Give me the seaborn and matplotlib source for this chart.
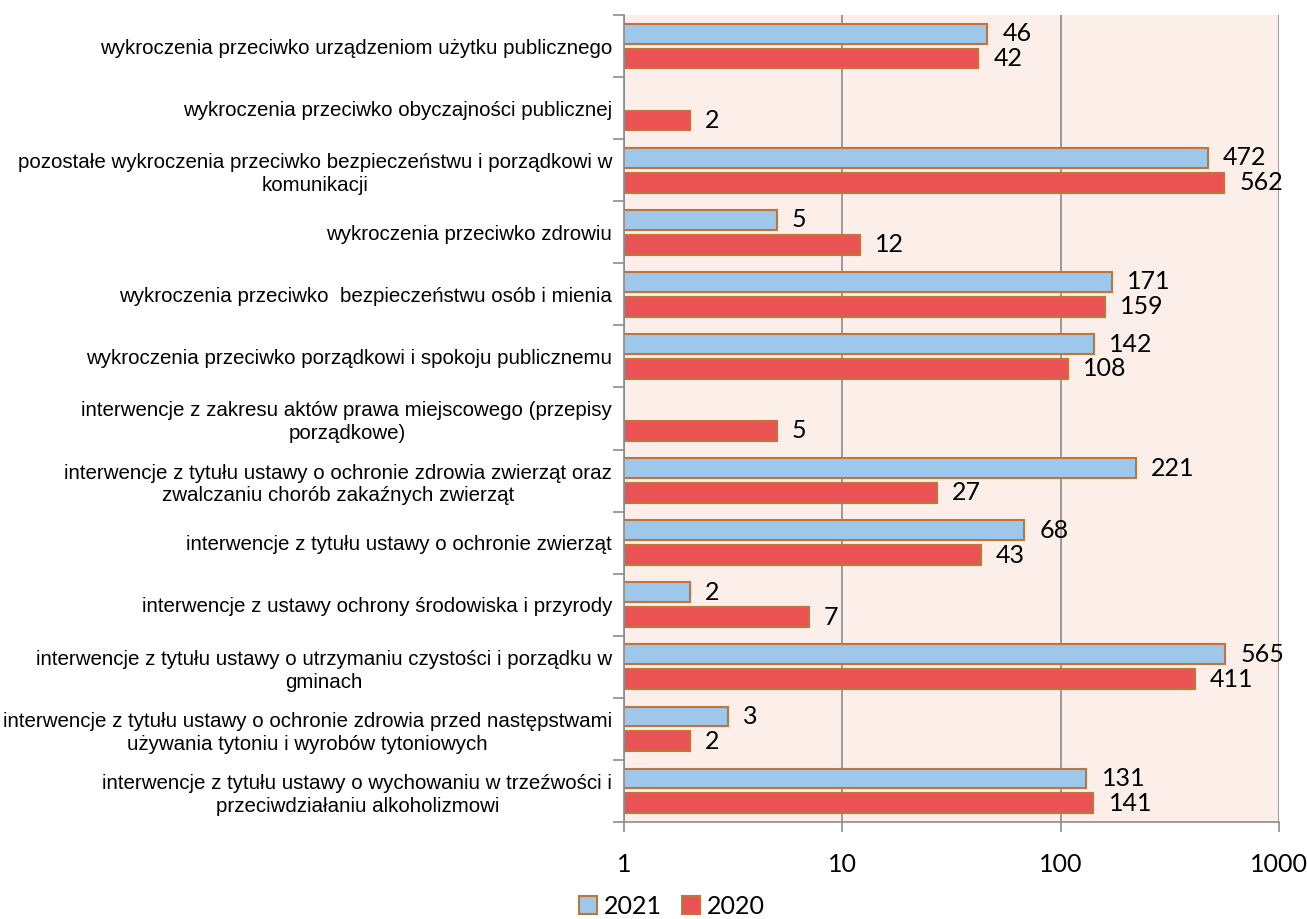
import numpy as np
import pandas as pd
import matplotlib
matplotlib.use("Agg")
import matplotlib.pyplot as plt
from matplotlib.patches import Patch
from matplotlib.ticker import NullLocator
import seaborn as sns

categories = [
    "wykroczenia przeciwko urządzeniom użytku publicznego",
    "wykroczenia przeciwko obyczajności publicznej",
    "pozostałe wykroczenia przeciwko bezpieczeństwu i porządkowi w\nkomunikacji",
    "wykroczenia przeciwko zdrowiu",
    "wykroczenia przeciwko  bezpieczeństwu osób i mienia",
    "wykroczenia przeciwko porządkowi i spokoju publicznemu",
    "interwencje z zakresu aktów prawa miejscowego (przepisy\nporządkowe)",
    "interwencje z tytułu ustawy o ochronie zdrowia zwierząt oraz\nzwalczaniu chorób zakaźnych zwierząt",
    "interwencje z tytułu ustawy o ochronie zwierząt",
    "interwencje z ustawy ochrony środowiska i przyrody",
    "interwencje z tytułu ustawy o utrzymaniu czystości i porządku w\ngminach",
    "interwencje z tytułu ustawy o ochronie zdrowia przed następstwami\nużywania tytoniu i wyrobów tytoniowych",
    "interwencje z tytułu ustawy o wychowaniu w trzeźwości i\nprzeciwdziałaniu alkoholizmowi",
]
values_2021 = [46, np.nan, 472, 5, 171, 142, np.nan, 221, 68, 2, 565, 3, 131]
values_2020 = [42, 2, 562, 12, 159, 108, 5, 27, 43, 7, 411, 2, 141]
years = ["2021", "2020"]
xticks = [1, 10, 100, 1000]

colors = {"2021": "#9DC8EB", "2020": "#EB5253"}
edge = "#C0763A"
grey = "#8C8C8C"
num_font = ["Lato", "DejaVu Sans"]

df = pd.concat([
    pd.DataFrame({"cat": categories, "val": values_2021, "year": "2021"}),
    pd.DataFrame({"cat": categories, "val": values_2020, "year": "2020"}),
], ignore_index=True)

sns.set_style("white")
plt.rcParams["font.family"] = ["Liberation Sans", "DejaVu Sans"]
plt.rcParams["text.color"] = "black"
plt.rcParams["xtick.labelcolor"] = "black"
plt.rcParams["ytick.labelcolor"] = "black"

fig = plt.figure(figsize=(13.07, 9.19), dpi=100)
ax = fig.add_axes([624 / 1307, 1 - 822 / 919, (1279 - 624) / 1307, (822 - 15) / 919])
ax.set_facecolor("#FCEEE9")

sns.barplot(data=df, x="val", y="cat", hue="year", order=categories,
            hue_order=years, palette=colors, orient="h", width=0.8, gap=0.2,
            saturation=1, edgecolor=edge, linewidth=1.5, legend=False, ax=ax)
ax.set_xscale("log")

ax.set_xlim(1, 1000)
ax.set_ylim(len(categories) - 0.5, -0.5)
ax.set_xticks(xticks)
ax.set_xticklabels([str(t) for t in xticks], family=num_font, fontsize=18, color="black")
ax.xaxis.set_minor_locator(NullLocator())
ax.grid(axis="x", which="major", color=grey, lw=1.2)
ax.set_axisbelow(True)

ax.set_yticks(np.arange(-0.5, len(categories), 1), minor=True)
ax.tick_params(axis="y", which="major", length=0, pad=8.5, labelsize=14.8, labelcolor="black")
ax.tick_params(axis="y", which="minor", length=8, color=grey, width=1.2, direction="out", left=True)
ax.tick_params(axis="x", which="major", length=7, color=grey, width=1.2, direction="out",
               bottom=True, pad=15)
for lbl in ax.get_yticklabels():
    lbl.set_multialignment("center")
    lbl.set_linespacing(1.25)

for s in ["top", "right"]:
    ax.spines[s].set_visible(False)
for s in ["left", "bottom"]:
    ax.spines[s].set_color(grey)
    ax.spines[s].set_linewidth(1.2)

ax.set_xlabel("")
ax.set_ylabel("")

for cont in ax.containers:
    ax.bar_label(cont, padding=11, fontsize=18, family=num_font, color="black", clip_on=False)

handles = [Patch(facecolor=colors[y], edgecolor=edge, linewidth=1.5, label=y) for y in years]
fig.legend(handles=handles, loc="center", bbox_to_anchor=(672 / 1307, 1 - 906 / 919),
           ncol=2, frameon=False, handlelength=0.7, handleheight=0.7, handletextpad=0.3,
           columnspacing=0.8, borderpad=0, prop={"family": num_font, "size": 18})

fig.savefig("out.png", dpi=100)
